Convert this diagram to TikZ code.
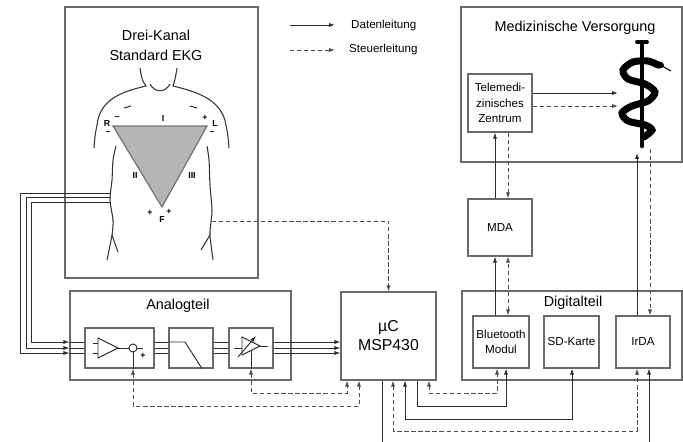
\documentclass[tikz,border=0pt]{standalone}
\usepackage{fontspec}
\setmainfont{Liberation Sans}
\usetikzlibrary{arrows.meta}
\usetikzlibrary{calc}
\tikzset{>={Latex[length=3.4pt,width=2.4pt]}}
\definecolor{boxgray}{RGB}{105,105,105}
\definecolor{wiregray}{RGB}{45,45,45}

\tikzset{
  blk/.style 2 args={draw=boxgray, line width=0.7pt, inner sep=0pt,
    minimum width=#1*0.2mm, minimum height=#2*0.2mm},
  wire/.style={draw=wiregray, line width=0.55pt},
  data/.style={wire, ->},
  ctrl/.style={wire, ->, draw=wiregray!85, dash pattern=on 2.4pt off 1.6pt},
  title/.style={font=\fontsize{8.2}{11.3}\selectfont, align=center},
  small/.style={font=\fontsize{6.6}{8.8}\selectfont, align=center},
  pole/.style={font=\fontsize{5}{5}\selectfont\bfseries, inner sep=0pt},
}

\begin{document}
\begin{tikzpicture}[x=0.2mm, y=-0.2mm]
  \useasboundingbox (0,0) rectangle (683,442);

  % Blocks
  \node[blk={193}{271}] (ekg) at (161.5,142.5) {};
  \node[title] (ekgtitle) at (156,45) {Drei-Kanal\\Standard EKG};
  \node[blk={221}{155}] (med) at (571.5,84.5) {};
  \node[title] (medtitle) at (575,28) {Medizinische Versorgung};
  \node[blk={64}{58}, small] (tmz) at (500,103) {Telemedi-\\zinisches\\Zentrum};
  \node[blk={64}{57}, small] (mda) at (500,227.5) {MDA};
  \node[blk={221}{89}] (ana) at (180.5,335.5) {};
  \node[title] (anatitle) at (178,306) {Analogteil};
  \node[blk={69}{40}] (amp) at (119.5,348) {};
  \node[blk={44}{40}] (tp) at (191,348) {};
  \node[blk={44}{40}] (pga) at (251,348) {};
  \node[blk={95}{88}, font=\fontsize{9}{10.8}\selectfont, align=center] (msp) at (388.5,336) {µC\\MSP430};
  \node[blk={220}{89}] (dig) at (572,335.5) {};
  \node[title] (digtitle) at (573,303) {Digitalteil};
  \node[blk={56}{52}, small] (bt) at (501,342) {Bluetooth\\Modul};
  \node[blk={55}{52}, small] (sd) at (571.5,342) {SD-Karte};
  \node[blk={54}{52}, small] (irda) at (643,342) {IrDA};

  % Legend
  \coordinate (leg1a) at (290,25);
  \coordinate (leg1b) at (335,25);
  \draw[data] (leg1a) -- (leg1b);
  \node[small, anchor=west] (leg1) at (345,25) {Datenleitung};
  \coordinate (leg2a) at (290,50);
  \coordinate (leg2b) at (335,50);
  \draw[ctrl] (leg2a) -- (leg2b);
  \node[small, anchor=west] (leg2) at (343,50) {Steuerleitung};

  % Torso
  \begin{scope}[draw=black!80, line width=0.6pt]
    \draw (140,68) .. controls (142,80) .. (146,86) .. controls (120,92) and (100,100) .. (97,125) .. controls (95,135) .. (94,148);
    \draw (177,68) .. controls (175,80) .. (173,86) .. controls (198,92) and (222,100) .. (226,125) .. controls (228,135) .. (229,148);
    \draw (150,84) .. controls (155,93) and (165,93) .. (170,84);
    \draw (124,108) -- (131,106);
    \draw (190,106) -- (197,108);
    \draw plot[smooth] coordinates {(116,146) (113,160) (112,180) (110,200) (113,220) (112,235) (107,260)};
    \draw (112,235) -- (118,252);
    \draw plot[smooth] coordinates {(207,146) (209,160) (210,185) (212,210) (211,222) (210,235) (213,260)};
    \draw (210,235) -- (201,250);
  \end{scope}
  \filldraw[fill=black!29, draw=black!55, line width=0.7pt] (113,126) -- (207,126) -- (162,207) -- cycle;
  \node[pole] (pR) at (107,123) {R};
  \node[pole] (mR1) at (117,118) {--};
  \node[pole] (mR2) at (108,133) {--};
  \node[pole] (pI) at (163,118) {I};
  \node[pole] (pL1) at (205,118) {+};
  \node[pole] (pL) at (215,123) {L};
  \node[pole] (mL) at (212,133) {--};
  \node[pole] (pII) at (135,175) {II};
  \node[pole] (pIII) at (192,175) {III};
  \node[pole] (pF1) at (150,213) {+};
  \node[pole] (pF) at (162,219) {F};
  \node[pole] (pF2) at (169,212) {+};

  % Staff of Asclepius
  \draw[line width=2.6pt, line cap=round] (642,44) -- (642,146);
  \draw[line width=2.2pt, line cap=round] (637,42) -- (647,42);
  \draw[line width=4pt, line cap=round] plot[smooth] coordinates {(658,65) (648,61) (633,62) (623,70) (628,79) (645,84) (655,92) (648,101) (632,106) (622,113) (628,121) (645,125) (652,130) (644,137)};
  \fill (659,65) ellipse (5 and 3.5);
  \draw[line width=0.6pt] (662,66) -- (671,71);

  % Analog chain
  \draw[wire] (98,338) -- (98,358) -- (118,348) -- cycle;
  \draw[wire] (93,343) -- (98,343) (93,353) -- (98,353);
  \node[circle, draw=wiregray, line width=0.55pt, inner sep=0pt, minimum size=1.6mm] (sum) at (133,348) {};
  \draw[wire] (118,348) -- (sum.west);
  \draw[wire] (sum.east) -- (143,348);
  \node[pole] (sumplus) at (143,356) {+};
  \draw[wire] (sum.south) -- (amp.south -| sum.south);
  \draw[wire] (tp.west |- 0,342) -- (185,342) -- (tp.south -| 202,0);
  \draw[wire] (234,348) -- (242,348) (260,346) -- (268,346);
  \draw[wire] (242,337) -- (242,355) -- (260,346) -- cycle;
  \draw[wire, ->] (238,357) -- (256,336);
  \draw[wire] (251,350.5) -- (pga.south);

  \foreach \n/\ya/\xa/\yb in {1/193/20/353, 2/197/26/348, 3/202/31/342}{
    \coordinate (lead\n) at (111,\ya);
    \draw[data] (lead\n) -- (\xa,\ya) -- (\xa,\yb) -- (ana.west |- 0,\yb);
    \draw[wire] (ana.west |- 0,\yb) -- (amp.west |- 0,\yb);
  }
  \foreach \y in {342,348,353}{
    \draw[wire] (amp.east |- 0,\y) -- (tp.west |- 0,\y);
    \draw[wire] (tp.east |- 0,\y) -- (pga.west |- 0,\y);
    \draw[data] (pga.east |- 0,\y) -- (msp.west |- 0,\y);
  }

  % Control lines
  \coordinate (ekgctl) at (212,221);
  \draw[ctrl] (ekgctl) -| (msp.north);
  \draw[ctrl, <->] (amp.south -| sum) -- (sum |- 0,406) -| (msp.south -| 359,0);
  \draw[ctrl, <->] (pga.south) -- (pga.south |- 0,393) -| (msp.south -| 347,0);
  \draw[ctrl, <->] (msp.south -| 429,0) -- (429,393) -| (bt.south -| 497,0);
  \draw[data] (msp.south -| 417,0) -- (417,406) -| (bt.south -| 506,0);
  \draw[data, <->] (msp.south -| 405,0) -- (405,419) -| (sd.south -| 572,0);
  \draw[ctrl, <->] (msp.south -| 393,0) -- (393,431) -| (irda.south -| 637,0);
  \coordinate (mspout) at (382,442);
  \draw[wire] (msp.south -| mspout) -- (mspout);
  \coordinate (irdain) at (649,442);
  \draw[data] (irdain) -- (irda.south -| irdain);

  % Upper links
  \draw[data] (bt.north -| 495,0) -- (mda.south -| 495,0);
  \draw[ctrl, <->] (bt.north -| 508,0) -- (mda.south -| 508,0);
  \draw[data] (mda.north -| 495,0) -- (tmz.south -| 495,0);
  \draw[ctrl] (tmz.south -| 508,0) -- (mda.north -| 508,0);
  \coordinate (stabfoot1) at (637,153);
  \coordinate (stabfoot2) at (650,149);
  \draw[data] (irda.north -| stabfoot1) -- (stabfoot1);
  \draw[ctrl] (stabfoot2) -- (irda.north -| stabfoot2);
  \coordinate (stabin1) at (618,93);
  \coordinate (stabin2) at (618,106);
  \draw[data] (tmz.east |- stabin1) -- (stabin1);
  \draw[ctrl] (tmz.east |- stabin2) -- (stabin2);
\end{tikzpicture}
\end{document}
